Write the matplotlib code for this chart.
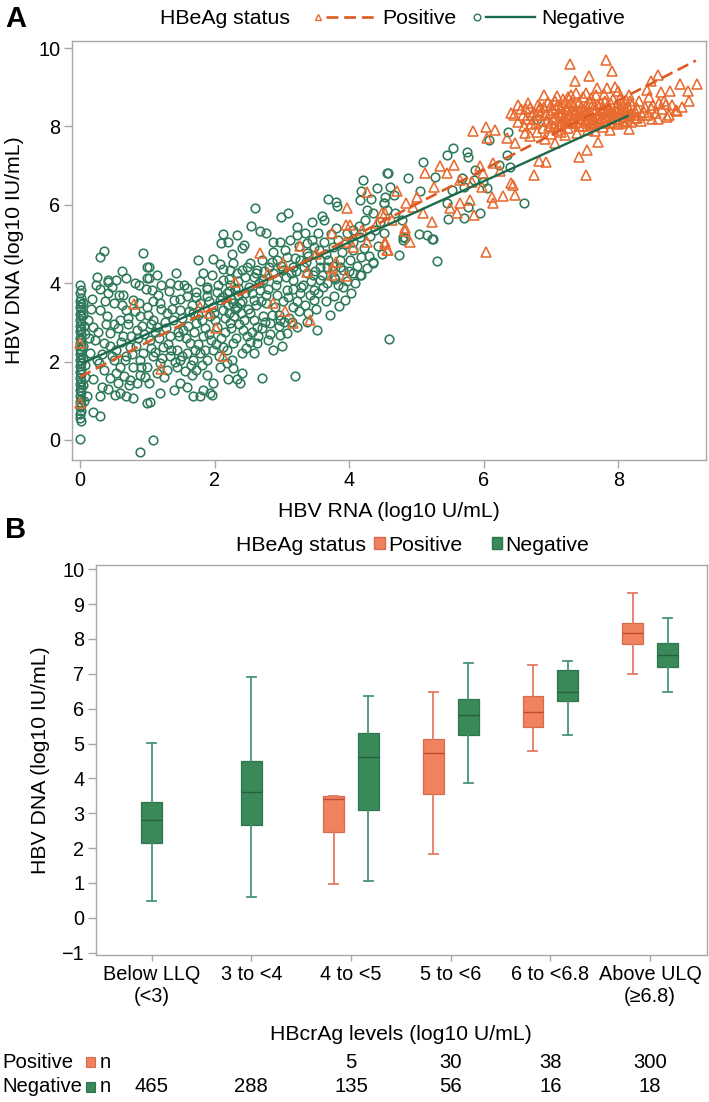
#!/usr/bin/env python3
import matplotlib
matplotlib.use("Agg")
import matplotlib.pyplot as plt
from matplotlib.lines import Line2D
from matplotlib.patches import Patch, Rectangle
from matplotlib.legend_handler import HandlerBase
from matplotlib.transforms import blended_transform_factory

plt.rcParams['font.family'] = ['Liberation Sans', 'DejaVu Sans']

# ---- panel A: HBV RNA vs HBV DNA ----
neg_pts = [
    # RNA undetectable strip
    (0.0, 3.95), (0.01, 3.83), (0.0, 3.74), (0.02, 3.62), (0.0, 3.55), (0.01, 3.47), (0.0, 3.38),
    (0.02, 3.31), (0.0, 3.22), (0.01, 3.15), (0.0, 3.07), (0.02, 2.98), (0.0, 2.91), (0.01, 2.84),
    (0.0, 2.77), (0.02, 2.69), (0.0, 2.61), (0.01, 2.55), (0.0, 2.48), (0.02, 2.40), (0.0, 2.33),
    (0.01, 2.26), (0.0, 2.18), (0.02, 2.11), (0.0, 2.04), (0.01, 1.97), (0.0, 1.89), (0.02, 1.82),
    (0.0, 1.74), (0.01, 1.67), (0.0, 1.58), (0.02, 1.51), (0.0, 1.43), (0.01, 1.36), (0.0, 1.28),
    (0.02, 1.21), (0.0, 1.13), (0.01, 1.05), (0.0, 0.98), (0.02, 0.90), (0.0, 0.83), (0.01, 0.74),
    (0.0, 0.66), (0.0, 0.57), (0.01, 0.49), (0.0, 0.03),
    (0.05, 3.50), (0.06, 2.90), (0.04, 2.40), (0.07, 1.90), (0.05, 1.40), (0.06, 1.00), (0.04, 3.20),
    (0.08, 2.70), (0.05, 2.10), (0.07, 1.60),
    # upper part of the cloud
    (0.30, 4.68), (0.35, 4.83), (0.25, 4.17), (0.42, 4.08), (0.54, 4.08), (0.69, 4.12), (0.93, 4.76),
    (0.99, 4.42), (1.00, 4.12), (1.76, 4.59), (1.83, 4.25), (1.97, 4.61), (2.08, 4.49), (2.13, 5.26),
    (2.10, 5.03), (2.20, 5.06), (2.34, 5.23), (2.40, 4.89), (2.43, 4.97), (2.54, 5.46), (2.60, 5.93),
    (2.67, 5.33), (2.77, 5.29), (2.26, 4.74), (2.28, 4.51), (2.23, 4.34), (2.33, 4.25), (2.40, 4.34),
    (2.53, 4.51), (2.63, 4.34), (2.70, 4.59), (2.87, 4.80), (2.87, 5.06), (2.97, 5.06), (2.99, 5.70),
    (3.09, 5.80), (3.12, 5.10), (3.23, 5.43), (3.22, 5.23), (3.34, 5.27), (3.44, 5.57), (3.60, 5.72),
    (3.62, 5.61), (3.68, 6.14), (3.80, 6.08), (3.82, 5.98), (3.37, 5.02), (3.47, 4.93), (3.37, 4.76),
    (3.27, 4.59), (3.17, 4.42), (3.02, 4.34), (2.92, 4.59), (3.07, 4.68), (3.54, 5.27), (3.57, 4.59),
    (3.67, 4.42), (3.76, 4.93), (3.86, 4.59), (3.91, 4.34), (4.01, 4.59), (4.06, 4.85), (4.16, 5.19),
    (4.21, 6.62), (4.18, 6.35), (4.16, 6.12), (4.26, 5.87), (4.33, 6.14), (4.36, 5.78), (4.41, 6.42),
    (4.46, 5.57), (4.51, 6.04), (4.56, 6.80), (4.18, 4.68), (4.36, 4.55), (4.26, 4.38), (4.16, 4.21),
    (4.06, 5.36), (3.96, 5.27), (3.81, 5.40),
    # right part
    (4.58, 6.80), (4.88, 6.68), (5.10, 7.10), (5.05, 6.34), (5.27, 6.72), (5.45, 7.27), (5.54, 7.44),
    (5.75, 7.36), (5.76, 7.23), (5.67, 6.68), (5.52, 6.38), (5.70, 6.46), (5.87, 6.89), (6.07, 7.65),
    (6.36, 7.87), (6.34, 7.27), (6.22, 7.02), (6.79, 8.18), (6.59, 6.04), (6.04, 6.42), (5.99, 6.59),
    (5.85, 6.63), (5.45, 6.04), (5.47, 5.64), (5.70, 5.66), (5.23, 5.13), (5.15, 5.23), (4.83, 5.14),
    (4.80, 5.10), (4.78, 5.61), (4.68, 5.78), (4.56, 5.87), (4.53, 6.21), (4.66, 6.25), (4.51, 6.04),
    (4.61, 6.46), (8.14, 8.27), (6.39, 6.97), (5.77, 5.95), (5.94, 5.78),
    (4.51, 5.27), (4.80, 5.17), (4.74, 4.72), (5.03, 5.26), (5.24, 5.12), (5.30, 4.57), (4.59, 2.57),
    # lower part of the cloud
    (0.42, 4.04), (0.30, 3.84), (0.64, 3.70), (0.87, 3.95), (1.02, 4.12), (1.02, 4.42), (1.07, 3.83),
    (1.21, 3.95), (1.34, 4.00), (1.46, 3.95), (1.59, 3.87), (1.73, 3.78), (1.88, 3.91), (2.03, 3.78),
    (2.13, 4.08), (2.23, 3.95), (2.35, 3.87), (2.45, 3.74), (2.58, 3.57), (2.67, 3.83), (2.77, 3.49),
    (2.92, 3.70), (3.07, 3.83), (3.17, 3.40), (3.27, 3.74), (3.39, 3.23), (3.47, 3.57), (3.57, 4.08),
    (3.77, 3.66), (3.85, 3.42), (3.94, 3.57), (4.06, 4.25), (4.18, 4.21), (4.36, 4.51), (2.97, 2.68),
    (3.00, 2.40), (3.19, 1.62), (2.71, 1.57), (2.40, 1.70), (2.33, 1.55), (2.20, 1.55), (2.38, 1.45),
    (2.28, 1.83), (1.98, 1.45), (1.93, 1.19), (1.96, 1.15), (1.83, 1.28), (1.78, 1.11), (1.68, 1.11),
    (1.59, 1.36), (1.49, 1.45), (1.39, 1.28), (1.19, 1.19), (1.04, 0.98), (0.99, 0.94), (1.09, 0.0),
    (0.89, -0.30), (0.79, 1.06), (0.69, 1.11), (0.59, 1.19), (0.52, 1.15), (0.30, 1.11), (0.20, 0.72),
    (0.29, 0.61), (0.10, 1.11), (0.32, 1.36), (0.45, 1.57), (0.54, 1.70), (0.74, 1.53), (0.84, 1.45),
    (0.89, 1.66), (1.14, 1.70), (1.29, 1.79), (1.44, 1.87), (1.66, 1.66), (1.73, 1.79), (1.88, 1.66),
    (2.08, 1.87), (2.18, 1.96), (2.40, 2.21), (2.58, 2.21), (2.63, 2.47), (2.80, 2.55), (2.87, 2.30),
    (3.07, 2.72), (3.22, 2.89), (3.37, 3.02), (3.52, 2.81), (2.97, 3.06),
    # dense band
    (0.20, 2.89), (0.35, 2.47), (0.45, 2.72), (0.54, 2.30), (0.64, 2.64), (0.74, 2.38), (0.84, 2.81),
    (0.94, 2.21), (1.04, 2.55), (1.14, 2.89), (1.24, 2.38), (1.34, 2.64), (1.44, 2.30), (1.53, 2.81),
    (1.63, 2.47), (1.73, 2.98), (1.83, 2.64), (1.93, 3.15), (2.03, 2.89), (2.13, 3.32), (2.23, 2.98),
    (2.33, 3.40), (2.43, 3.06), (2.53, 3.23), (2.63, 2.89), (2.72, 3.15), (2.82, 2.98),
    (0.30, 3.32), (0.40, 3.15), (0.50, 3.49), (0.59, 3.06), (0.69, 3.32), (0.79, 3.57), (0.89, 3.15),
    (0.99, 3.40), (1.09, 3.06), (1.19, 3.49), (1.29, 3.23), (1.39, 3.57), (1.49, 3.32), (1.59, 3.66),
    (1.68, 3.23), (1.78, 3.49), (1.88, 3.66), (1.98, 3.40), (2.08, 3.57), (2.18, 3.74), (2.28, 3.49),
    (0.15, 2.21), (0.25, 2.04), (0.35, 1.79), (0.50, 2.04), (0.59, 1.87), (0.69, 2.13), (0.79, 1.87),
    (0.89, 2.04), (0.99, 1.87), (1.09, 2.13), (1.19, 1.96), (1.34, 2.13), (1.49, 2.04), (1.59, 2.21),
    (1.68, 2.04), (1.78, 2.21), (1.88, 2.04), (1.98, 2.30), (2.13, 2.38), (2.28, 2.47), (2.48, 2.64),
    (3.17, 4.08), (3.37, 4.25), (3.47, 3.83), (3.67, 4.00), (3.77, 4.17), (3.91, 3.91), (2.72, 4.08),
    (2.87, 4.25), (2.58, 4.17), (2.48, 4.42),
    (0.12, 3.05), (0.18, 3.60), (0.22, 2.55), (0.28, 1.95), (0.38, 2.95), (0.42, 3.75), (0.48, 2.15),
    (0.57, 2.85), (0.62, 3.45), (0.66, 1.62), (0.72, 2.95), (0.77, 2.20), (0.82, 3.30), (0.86, 2.60),
    (0.92, 2.90), (0.97, 1.60), (1.01, 3.20), (1.06, 2.35), (1.11, 2.75), (1.16, 3.70), (1.22, 2.10),
    (1.26, 3.00), (1.31, 2.45), (1.36, 3.35), (1.41, 2.00), (1.47, 2.65), (1.51, 3.10), (1.56, 1.75),
    (1.61, 2.90), (1.66, 3.45), (1.71, 2.30), (1.76, 3.20), (1.81, 1.90), (1.86, 2.85), (1.91, 3.55),
    (1.95, 2.55), (2.01, 3.05), (2.06, 2.15), (2.11, 3.65), (2.16, 2.75), (2.21, 3.25), (2.26, 2.05),
    (2.31, 3.85), (2.36, 2.95), (2.41, 3.55), (2.46, 2.35), (2.51, 3.90), (2.56, 2.75), (2.61, 3.45),
    (2.66, 4.00), (2.71, 2.85), (2.76, 3.70), (2.81, 4.40), (2.86, 3.20), (2.91, 3.95), (2.96, 2.90),
    (3.01, 3.55), (3.06, 4.15), (3.11, 3.10), (3.16, 3.85), (3.21, 4.30), (3.26, 3.30), (3.31, 3.95),
    (3.36, 4.55), (3.41, 3.70), (3.46, 4.20), (3.51, 3.35), (3.56, 4.40), (3.61, 3.90), (3.66, 4.75),
    (3.71, 3.20), (3.76, 4.45), (3.84, 3.95), (3.89, 4.80), (3.97, 4.05), (4.03, 3.75), (4.11, 4.45),
    (4.22, 4.90), (4.31, 5.20), (4.43, 4.95),
    (2.20, 3.45), (2.25, 3.60), (2.30, 3.35), (2.35, 3.70), (2.22, 3.80), (2.38, 3.50),
    (0.14, 2.60), (0.16, 3.35), (0.19, 1.55), (0.24, 3.95), (0.27, 2.75), (0.33, 2.20), (0.37, 3.55),
    (0.41, 1.30), (0.44, 2.40), (0.47, 3.90), (0.51, 2.95), (0.56, 1.45), (0.58, 3.70), (0.61, 2.50),
    (0.63, 4.30), (0.67, 2.05), (0.71, 3.10), (0.73, 1.40), (0.76, 2.65), (0.81, 4.00), (0.83, 2.40),
    (0.87, 3.50), (0.91, 1.85), (0.95, 2.70), (0.98, 3.85), (1.03, 1.45), (1.05, 2.95), (1.08, 3.55),
    (1.12, 2.25), (1.15, 4.20), (1.18, 2.60), (1.21, 3.35), (1.25, 1.60), (1.28, 2.85), (1.32, 3.80),
    (1.35, 2.30), (1.38, 3.05), (1.42, 4.25), (1.45, 2.75), (1.48, 3.60), (1.52, 2.15), (1.55, 3.95),
    (1.58, 2.60), (1.62, 3.30), (1.65, 1.90), (1.69, 2.75), (1.72, 3.65), (1.75, 2.45), (1.79, 4.05),
    (1.82, 3.05), (1.85, 2.30), (1.89, 3.85), (1.92, 2.70), (1.96, 4.20), (1.99, 3.25), (2.02, 2.45),
    (2.05, 3.95), (2.09, 2.60), (2.12, 4.35), (2.15, 3.10), (2.19, 2.30), (2.22, 4.10), (2.25, 2.85),
    (2.29, 3.15), (2.32, 2.60), (2.35, 4.05), (2.39, 3.25), (2.42, 2.80), (2.45, 4.15), (2.49, 3.35),
    (2.52, 2.50), (2.55, 3.75), (2.59, 3.05), (2.62, 4.25), (2.65, 2.65), (2.69, 3.55), (2.73, 4.30),
    (2.75, 3.00), (2.79, 3.85), (2.83, 2.70), (2.85, 4.55), (2.89, 3.40), (2.93, 4.10), (2.95, 3.20),
    (2.99, 4.45), (3.03, 3.00), (3.05, 4.85), (3.09, 3.65), (3.13, 4.25), (3.15, 3.00), (3.19, 4.65),
    (3.23, 3.55), (3.25, 4.95), (3.29, 3.90), (3.33, 4.40), (3.35, 3.45), (3.39, 4.70), (3.43, 4.05),
    (3.45, 5.10), (3.49, 4.30), (3.53, 3.75), (3.55, 4.85), (3.59, 4.20), (3.63, 5.05), (3.65, 3.55),
    (3.69, 4.60), (3.73, 5.25), (3.79, 4.10), (3.83, 5.10), (3.87, 4.40), (3.93, 5.00), (3.99, 4.30),
    (4.05, 5.05), (4.09, 4.00), (4.14, 5.45), (4.24, 5.60), (4.29, 4.70), (4.39, 5.35), (4.48, 4.75),
]

pos_pts = [
    (0.0, 2.47), (0.0, 0.94), (0.80, 3.47), (1.21, 1.80), (1.79, 3.40), (1.91, 3.23), (2.02, 2.85),
    (2.12, 2.15), (2.31, 4.04), (2.80, 4.25), (2.87, 3.50), (3.05, 3.29), (3.17, 2.98), (3.37, 4.28),
    (3.42, 3.06), (3.74, 4.38), (3.75, 4.21), (3.95, 4.19), (3.02, 4.52), (3.81, 4.55),
    (2.67, 4.78), (3.27, 4.95), (3.51, 4.74), (3.74, 5.27), (3.96, 5.91), (3.95, 5.48), (4.01, 5.48),
    (3.94, 5.06), (4.06, 4.93), (4.26, 6.33), (4.19, 5.36), (4.26, 5.06), (4.48, 5.78), (4.53, 5.06),
    (4.56, 4.85), (4.41, 5.53),
    (7.28, 9.59), (7.81, 9.69), (7.91, 9.42), (7.36, 9.17), (7.56, 9.29), (7.68, 8.97), (7.83, 8.97),
    (7.95, 9.00), (8.59, 9.31), (8.48, 9.15), (8.91, 9.08), (9.16, 9.08), (9.04, 8.91), (8.76, 8.91),
    (8.63, 8.87), (8.70, 8.57), (8.87, 8.39), (8.72, 8.25), (8.49, 8.46), (8.42, 8.93), (8.27, 8.21),
    (8.15, 7.93), (8.07, 8.08), (8.17, 8.64), (8.02, 8.72), (6.41, 8.35), (6.62, 8.44), (6.84, 8.49),
    (6.51, 8.12), (6.59, 8.00), (5.84, 7.89), (6.03, 7.98), (6.17, 7.91), (6.04, 7.70), (6.34, 7.70),
    (6.46, 7.57), (6.61, 7.82), (6.79, 7.87), (6.91, 7.68), (7.06, 7.57), (7.21, 7.78), (7.53, 7.40),
    (7.70, 7.61), (7.41, 7.21), (7.51, 6.76), (6.74, 6.76), (6.82, 7.13), (6.92, 7.08), (5.35, 6.99),
    (5.55, 7.02), (5.45, 6.82), (5.65, 6.63), (5.94, 6.99), (6.14, 7.06), (6.24, 6.87), (6.41, 6.55),
    (5.99, 6.80), (5.83, 6.59), (5.13, 6.80), (5.26, 6.46), (5.97, 6.46), (6.12, 6.21), (6.29, 6.22),
    (6.44, 6.51), (6.46, 6.25), (6.14, 6.04), (5.79, 6.12), (5.65, 6.04), (5.50, 5.91), (5.86, 5.74),
    (5.60, 5.78), (5.23, 5.57), (4.95, 5.95), (5.00, 6.21), (4.85, 6.04), (4.71, 6.34), (4.53, 5.78),
    (4.63, 5.61), (4.83, 5.40), (5.10, 5.78), (4.53, 5.01), (4.57, 4.85), (4.90, 5.06), (4.83, 5.33),
    (6.03, 4.80),
    # dense cluster of high-viremia patients
    (6.45, 8.30), (6.55, 8.45), (6.62, 8.20), (6.70, 8.05), (6.75, 8.38), (6.80, 8.55), (6.85, 8.15),
    (6.88, 7.95), (6.92, 8.30), (6.95, 8.62), (7.00, 8.10), (7.02, 8.42), (7.05, 8.25), (7.08, 7.90),
    (7.10, 8.55), (7.12, 8.35), (7.15, 8.05), (7.18, 8.70), (7.20, 8.20), (7.22, 8.45), (7.25, 7.95),
    (7.27, 8.30), (7.30, 8.60), (7.32, 8.10), (7.35, 8.40), (7.37, 8.85), (7.40, 8.20), (7.42, 8.00),
    (7.44, 8.50), (7.46, 8.30), (7.48, 8.75), (7.50, 8.15), (7.52, 8.40), (7.55, 7.92), (7.57, 8.60),
    (7.60, 8.25), (7.62, 8.45), (7.64, 8.05), (7.66, 8.80), (7.68, 8.30), (7.70, 8.55), (7.72, 8.15),
    (7.75, 8.40), (7.77, 7.98), (7.80, 8.65), (7.82, 8.25), (7.85, 8.45), (7.87, 8.10), (7.90, 8.35),
    (7.92, 8.70), (7.95, 8.20), (7.97, 8.50), (8.00, 8.05), (8.02, 8.35), (8.05, 8.60), (8.08, 8.25),
    (8.10, 8.45), (8.12, 8.15), (8.15, 8.80), (8.18, 8.35), (8.20, 8.55), (8.25, 8.40), (8.30, 8.65),
    (8.35, 8.30), (8.40, 8.50), (8.45, 8.75), (8.50, 8.20), (8.55, 8.35), (8.60, 8.60), (8.65, 8.45),
    (8.75, 8.30), (8.80, 8.55), (8.95, 8.50), (9.05, 8.65),
    (7.03, 8.18), (7.13, 8.28), (7.23, 8.12), (7.33, 8.22), (7.43, 8.38), (7.53, 8.08), (7.63, 8.18),
    (7.73, 8.32), (7.07, 8.48), (7.17, 8.38), (7.27, 8.52), (7.37, 8.12), (7.47, 8.02), (7.57, 8.32),
    (7.67, 8.42), (7.77, 8.22), (6.98, 8.35), (7.11, 8.02), (7.21, 8.62), (7.31, 8.42), (7.41, 8.62),
    (7.51, 8.52), (7.61, 8.02), (7.71, 8.12), (7.81, 8.38), (7.91, 8.12), (8.01, 8.48), (6.65, 8.60),
    (6.72, 8.28), (6.78, 8.10), (6.82, 8.42), (6.90, 8.50), (6.97, 8.02), (7.06, 8.65), (7.16, 8.15),
    (7.26, 8.08), (7.36, 8.32), (7.46, 8.45), (7.56, 8.20), (7.66, 8.08), (7.76, 8.48), (7.86, 8.28),
    (7.96, 8.40), (8.06, 8.15), (8.16, 8.28), (8.26, 8.22), (7.09, 8.78), (7.29, 8.80), (7.59, 8.72),
    (7.89, 8.58), (8.11, 8.68),
    (6.50, 8.55), (6.58, 8.28), (6.68, 8.48), (6.74, 8.18), (6.84, 8.30), (6.94, 8.15), (6.99, 8.55),
    (7.04, 7.98), (7.14, 8.50), (7.19, 8.25), (7.24, 8.40), (7.29, 8.15), (7.34, 8.55), (7.39, 8.30),
    (7.45, 8.18), (7.49, 8.42), (7.54, 8.30), (7.58, 8.10), (7.62, 8.58), (7.69, 8.22), (7.74, 8.60),
    (7.79, 8.10), (7.84, 8.55), (7.88, 8.40), (7.94, 8.30), (7.99, 8.18), (8.04, 8.45), (8.09, 8.35),
    (8.14, 8.50), (8.19, 8.12), (8.23, 8.30), (8.28, 8.48), (8.33, 8.15), (8.38, 8.38), (8.44, 8.28),
    (8.52, 8.55), (8.58, 8.20), (8.68, 8.65), (8.85, 8.42), (7.15, 7.85), (7.38, 7.82), (7.65, 7.88),
    (7.88, 7.90), (6.68, 7.75), (7.00, 7.80), (7.25, 8.75), (7.52, 8.85), (7.78, 8.82), (8.00, 8.90),
    (6.90, 8.80),
]

# fitted lines (end points)
pos_fit_x = [0.0, 9.15]
pos_fit_y = [1.61, 9.68]
neg_fit_x = [0.07, 8.14]
neg_fit_y = [1.98, 8.27]

# ---- panel B: HBV DNA by HBcrAg category ----
categories = ["Below LLQ\n(<3)", "3 to <4", "4 to <5", "5 to <6", "6 to <6.8", "Above ULQ\n(\u22656.8)"]
pos_whislo = [None, None, 0.97, 1.84, 4.80, 6.99]
pos_q1 = [None, None, 2.46, 3.56, 5.48, 7.86]
pos_med = [None, None, 3.42, 4.72, 5.91, 8.16]
pos_q3 = [None, None, 3.49, 5.13, 6.36, 8.46]
pos_whishi = [None, None, 3.49, 6.47, 7.25, 9.33]
neg_whislo = [0.49, 0.61, 1.05, 3.86, 5.25, 6.48]
neg_q1 = [2.15, 2.66, 3.08, 5.25, 6.22, 7.20]
neg_med = [2.80, 3.60, 4.60, 5.82, 6.47, 7.55]
neg_q3 = [3.33, 4.50, 5.31, 6.28, 7.12, 7.87]
neg_whishi = [5.02, 6.90, 6.37, 7.32, 7.37, 8.60]
pos_n = [None, None, 5, 30, 38, 300]
neg_n = [465, 288, 135, 56, 16, 18]

# colours
POS_PT = "#E86A2E"
POS_LINE = "#DF5A22"
NEG_PT = "#2E7A5A"
NEG_LINE = "#1B6A4B"
POS_FILL = "#F0825F"
POS_EDGE = "#D86A4E"
POS_MED = "#C24A32"
POS_WHISK = "#E57B62"
NEG_FILL = "#3A8959"
NEG_EDGE = "#2E7550"
NEG_MED = "#25613F"
NEG_WHISK = "#4A947A"
SPINE = "#A8A8A8"

W, H = 709, 1102
TICK_FS = 14.3
LAB_FS = 15.3
TAB_FS = 14.6


class MarkerLineHandler(HandlerBase):
    """legend key: marker on the left, then the line"""
    def create_artists(self, legend, orig_handle, xdescent, ydescent, width, height, fontsize, trans):
        y = height / 2 - ydescent
        x0 = -xdescent
        line = Line2D([x0 + 0.2 * width, x0 + width], [y, y])
        line.update_from(orig_handle)
        line.set_marker("None")
        mark = Line2D([x0 + 0.06 * width], [y])
        mark.update_from(orig_handle)
        mark.set_linestyle("None")
        line.set_transform(trans)
        mark.set_transform(trans)
        return [line, mark]


def style_axes(ax):
    for sp in ax.spines.values():
        sp.set_color(SPINE)
        sp.set_linewidth(1.0)
    ax.tick_params(colors=SPINE, labelcolor="black", length=5.8, width=1.0,
                   labelsize=TICK_FS, pad=2.5)


fig = plt.figure(figsize=(W / 100, H / 100), dpi=100)

# ---------------- panel A ----------------
axA = fig.add_axes([71.7 / W, 1 - 459.5 / H, (706 - 71.7) / W, 418.5 / H])
axA.plot([p[0] for p in neg_pts], [p[1] for p in neg_pts], linestyle="none", marker="o",
         mfc="none", mec=NEG_PT, ms=6.2, mew=1.15)
axA.plot([p[0] for p in pos_pts], [p[1] for p in pos_pts], linestyle="none", marker="^",
         mfc="none", mec=POS_PT, ms=6.6, mew=1.15)
axA.plot(neg_fit_x, neg_fit_y, color=NEG_LINE, lw=1.7)
axA.plot(pos_fit_x, pos_fit_y, color=POS_LINE, lw=1.9, dashes=(4.5, 2.2))
axA.set_xlim(-0.123, 9.30)
axA.set_ylim(-0.5, 10.18)
axA.set_xticks([0, 2, 4, 6, 8])
axA.set_yticks([0, 2, 4, 6, 8, 10])
style_axes(axA)
axA.set_xlabel("HBV RNA (log10 U/mL)", fontsize=LAB_FS, labelpad=8.5)
axA.set_ylabel("HBV DNA (log10 IU/mL)", fontsize=LAB_FS, labelpad=10)

fig.text(5 / W, 1 - 19 / H, "A", fontsize=21, fontweight="bold", va="center", ha="left")
fig.text(160 / W, 1 - 19 / H, "HBeAg status", fontsize=LAB_FS, va="center", ha="left")
h_pos = Line2D([], [], color=POS_LINE, lw=1.9, dashes=(4.5, 2.2), marker="^",
               mfc="none", mec=POS_PT, ms=5.0, mew=1.0)
h_neg = Line2D([], [], color=NEG_LINE, lw=1.7, marker="o",
               mfc="none", mec=NEG_PT, ms=4.8, mew=1.0)
fig.legend(handles=[h_pos, h_neg], labels=["Positive", "Negative"], loc="center left",
           bbox_to_anchor=(314 / W, 1 - 19 / H), ncol=2, frameon=False, fontsize=LAB_FS,
           handlelength=2.9, handletextpad=0.3, columnspacing=0.8, borderpad=0,
           borderaxespad=0, handler_map={Line2D: MarkerLineHandler()})

# ---------------- panel B ----------------
axB = fig.add_axes([95.7 / W, 1 - 955 / H, 611 / W, 390.3 / H])

pos_stats, pos_x = [], []
neg_stats, neg_x = [], []
for i in range(len(categories)):
    has_pos = pos_med[i] is not None
    if has_pos:
        pos_stats.append(dict(whislo=pos_whislo[i], q1=pos_q1[i], med=pos_med[i],
                              q3=pos_q3[i], whishi=pos_whishi[i], fliers=[]))
        pos_x.append(i - 0.175)
    neg_stats.append(dict(whislo=neg_whislo[i], q1=neg_q1[i], med=neg_med[i],
                          q3=neg_q3[i], whishi=neg_whishi[i], fliers=[]))
    neg_x.append(i + 0.175 if has_pos else i)

for stats, xs, fill, edge, med, whisk in [
        (pos_stats, pos_x, POS_FILL, POS_EDGE, POS_MED, POS_WHISK),
        (neg_stats, neg_x, NEG_FILL, NEG_EDGE, NEG_MED, NEG_WHISK)]:
    axB.bxp(stats, positions=xs, widths=0.21, capwidths=0.09, patch_artist=True,
            showfliers=False, manage_ticks=False,
            boxprops=dict(facecolor=fill, edgecolor=edge, linewidth=0.9),
            medianprops=dict(color=med, linewidth=1.0),
            whiskerprops=dict(color=whisk, linewidth=1.3),
            capprops=dict(color=whisk, linewidth=1.3))

axB.set_xlim(-0.56, 5.567)
axB.set_ylim(-1.066, 10.13)
axB.set_yticks(range(-1, 11))
axB.set_xticks(range(len(categories)))
axB.set_xticklabels(categories)
style_axes(axB)
axB.tick_params(axis="x", length=4.5)
axB.set_ylabel("HBV DNA (log10 IU/mL)", fontsize=LAB_FS, labelpad=8)
axB.set_xlabel("HBcrAg levels (log10 U/mL)", fontsize=LAB_FS, labelpad=14)

fig.text(5 / W, 1 - 530 / H, "B", fontsize=21, fontweight="bold", va="center", ha="left")
fig.text(236 / W, 1 - 545 / H, "HBeAg status", fontsize=LAB_FS, va="center", ha="left")
fig.legend(handles=[Patch(facecolor=POS_FILL, edgecolor=POS_EDGE),
                    Patch(facecolor=NEG_FILL, edgecolor=NEG_EDGE)],
           labels=["Positive", "Negative"], loc="center left",
           bbox_to_anchor=(374 / W, 1 - 545 / H), ncol=2, frameon=False, fontsize=LAB_FS,
           handlelength=0.5, handleheight=0.5, handletextpad=0.15, columnspacing=1.4,
           borderpad=0, borderaxespad=0)

# n table under panel B
row_tr = blended_transform_factory(axB.transData, fig.transFigure)
for row_y, name, fill, edge, counts in [(1062, "Positive", POS_FILL, POS_EDGE, pos_n),
                                        (1087, "Negative", NEG_FILL, NEG_EDGE, neg_n)]:
    yf = 1 - row_y / H
    fig.text(2 / W, yf, name, fontsize=TAB_FS, va="center", ha="left")
    fig.add_artist(Rectangle((86 / W, yf - 5 / H), 9 / W, 10 / H, transform=fig.transFigure,
                             facecolor=fill, edgecolor=edge, linewidth=0.8))
    fig.text(100 / W, yf, "n", fontsize=TAB_FS, va="center", ha="left")
    for i, n in enumerate(counts):
        if n is not None:
            axB.text(i, yf, str(n), transform=row_tr, fontsize=TAB_FS, va="center", ha="center")

fig.savefig("out.png", dpi=100)
plt.close(fig)
print("Saved out.png")
